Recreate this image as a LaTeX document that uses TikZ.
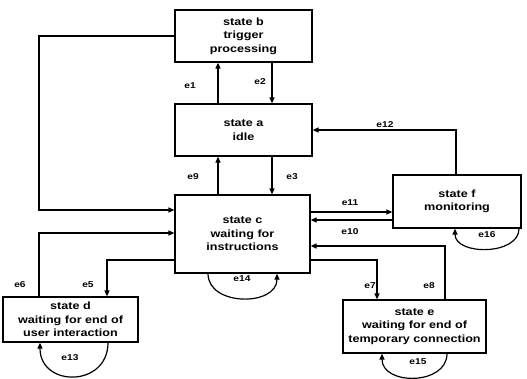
\documentclass[tikz,border=0pt]{standalone}
\usepackage{fontspec}
\setmainfont{Liberation Sans}[FakeStretch=1.2]
\usetikzlibrary{arrows.meta}
\tikzset{
  stbox/.style={draw, line width=1.2pt, inner sep=0pt, align=center,
    font=\bfseries\fontsize{10.5}{13.5}\selectfont},
  conn/.style={line width=1.2pt, -{Triangle[length=6pt,width=5pt]}},
  lbl/.style={font=\bfseries\fontsize{8.5}{10}\selectfont, inner sep=0pt},
}
\begin{document}
\begin{tikzpicture}[x=1pt,y=-1pt]
\useasboundingbox (0,0) rectangle (527,378);
% states
\node[stbox, minimum width=137pt, minimum height=52pt] (b) at (243.5,36) {state b\\trigger\\processing};
\node[stbox, minimum width=137pt, minimum height=52pt] (a) at (243.5,130) {state a\\idle};
\node[stbox, minimum width=135pt, minimum height=78pt] (c) at (242.5,234) {state c\\waiting for\\instructions};
\node[stbox, minimum width=128pt, minimum height=53pt] (f) at (457,201.5) {state f\\monitoring};
\node[stbox, minimum width=135pt, minimum height=45pt] (d) at (70.5,319.5) {state d\\waiting for end of\\user interaction};
\node[stbox, minimum width=143pt, minimum height=53pt] (e) at (414.5,326.5) {state e\\waiting for end of\\temporary connection};
% helper coordinates
\coordinate (x39) at (39,0);
\coordinate (x40) at (40,0);
\coordinate (x107) at (107,0);
\coordinate (x108) at (108,0);
\coordinate (x208) at (208,0);
\coordinate (x218) at (218,0);
\coordinate (x272) at (272,0);
\coordinate (x277) at (277,0);
\coordinate (x377) at (377,0);
\coordinate (x382) at (382,0);
\coordinate (x445) at (445,0);
\coordinate (x447) at (447,0);
\coordinate (x455) at (455,0);
\coordinate (x456) at (456,0);
\coordinate (x519) at (519,0);
\coordinate (y210) at (0,210);
\coordinate (y212) at (0,212);
\coordinate (y220) at (0,220);
\coordinate (y233) at (0,233);
\coordinate (y246) at (0,246);
\coordinate (y260) at (0,260);
% connectors
\draw[conn] (x218 |- a.north) -- (x218 |- b.south);
\draw[conn] (x272 |- b.south) -- (x272 |- a.north);
\draw[conn] (x218 |- c.north) -- (x218 |- a.south);
\draw[conn] (x272 |- a.south) -- (x272 |- c.north);
\draw[conn] (b.west) -| (x39 |- y210) -- (c.west |- y210);
\draw[conn] (x39 |- d.north) |- (c.west |- y233);
\draw[conn] (c.west |- y260) -| (x107 |- d.north);
\draw[conn] (c.east |- y212) -- (f.west |- y212);
\draw[conn] (f.west |- y220) -- (c.east |- y220);
\draw[conn] (x456 |- f.north) |- (a.east);
\draw[conn] (x445 |- e.north) |- (c.east |- y246);
\draw[conn] (c.east |- y260) -| (x377 |- e.north);
% self loops
\draw[conn] (x208 |- c.south) .. controls +(0,33) and +(0,33) .. (x277 |- c.south);
\draw[conn] (x519 |- f.south) .. controls +(0,27) and +(0,27) .. (x455 |- f.south);
\draw[conn] (x108 |- d.south) .. controls +(0,45) and +(0,45) .. (x40 |- d.south);
\draw[conn] (x447 |- e.south) .. controls +(0,32) and +(0,32) .. (x382 |- e.south);
% labels
\node[lbl] (l1) at (190,86) {e1};
\node[lbl] (l2) at (260,82) {e2};
\node[lbl] (l9) at (193,177) {e9};
\node[lbl] (l3) at (292,177) {e3};
\node[lbl] (l12) at (385,125) {e12};
\node[lbl] (l11) at (350,203) {e11};
\node[lbl] (l10) at (350,232) {e10};
\node[lbl] (l16) at (487,235) {e16};
\node[lbl] (l14) at (242,279) {e14};
\node[lbl] (l6) at (20,285) {e6};
\node[lbl] (l5) at (88,285) {e5};
\node[lbl] (l13) at (70,358) {e13};
\node[lbl] (l7) at (370,286) {e7};
\node[lbl] (l8) at (429,286) {e8};
\node[lbl] (l15) at (418,362) {e15};
\end{tikzpicture}
\end{document}
